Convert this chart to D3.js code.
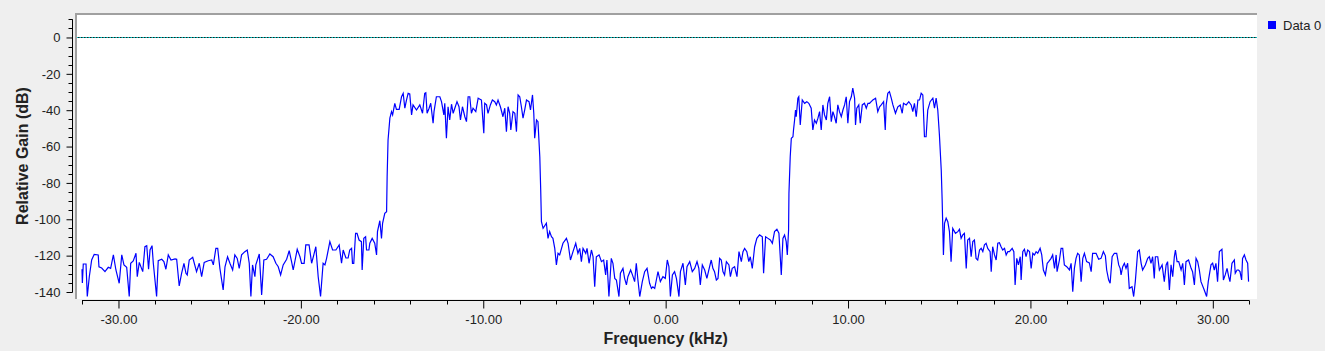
<!DOCTYPE html>
<html>
<head>
<meta charset="utf-8">
<script src="https://cdn.jsdelivr.net/npm/d3@7"></script>
<style>
  html, body { margin: 0; padding: 0; background: #efefef; }
  svg { display: block; font-family: "Liberation Sans", Arial, sans-serif; }
</style>
</head>
<body>
<svg id="chart"></svg>
<script>
// --- Data: [frequency kHz, gain dB] ---
const noiseLeft = [[-32.0,-127.5],[-31.98,-135],[-31.93,-124.6],[-31.78,-124.6],[-31.71,-142.5],[-31.6,-131.6],[-31.47,-122.4],[-31.33,-119.3],[-31.11,-119.6],[-31.07,-126.2],[-30.92,-126.8],[-30.74,-128.8],[-30.56,-126.4],[-30.43,-127],[-30.28,-119.6],[-30.14,-127.9],[-29.96,-135.2],[-29.82,-119.6],[-29.7,-125.1],[-29.55,-126.4],[-29.41,-142.5],[-29.33,-124.2],[-29.19,-122.9],[-29.04,-118.7],[-28.97,-131.6],[-28.86,-123.7],[-28.67,-128.8],[-28.55,-115.1],[-28.45,-114.5],[-28.35,-127.5],[-28.27,-116.9],[-28.16,-114.5],[-28.09,-124.2],[-27.91,-142.5],[-27.82,-122.8],[-27.63,-122],[-27.51,-123.3],[-27.4,-127.5],[-27.27,-119.6],[-27.12,-122.4],[-26.9,-121.8],[-26.81,-122],[-26.67,-136.7],[-26.54,-129.7],[-26.41,-124.2],[-26.3,-129.7],[-26.23,-130.6],[-26.12,-122.4],[-25.93,-120.9],[-25.72,-128.8],[-25.57,-124.2],[-25.44,-131.6],[-25.3,-123.7],[-25.08,-122.8],[-24.89,-122.4],[-24.8,-125.1],[-24.66,-116],[-24.56,-116],[-24.44,-127],[-24.26,-138.9],[-24.16,-126.1],[-24.02,-120.6],[-23.89,-124.2],[-23.74,-127.9],[-23.62,-119.6],[-23.49,-121.5],[-23.38,-127],[-23.25,-119.6],[-23.07,-117.8],[-22.94,-116.9],[-22.83,-124.2],[-22.74,-142.5],[-22.65,-125.1],[-22.52,-131.6],[-22.47,-125.1],[-22.28,-119.1],[-22.15,-141.6],[-22.03,-122.4],[-21.88,-122],[-21.7,-119.1],[-21.52,-120.6],[-21.37,-124.2],[-21.24,-126.1],[-21.11,-130.6],[-20.97,-125.1],[-20.78,-122],[-20.64,-117.3],[-20.51,-123.3],[-20.42,-127.9],[-20.2,-116.5],[-20.05,-120.6],[-19.96,-124.2],[-19.82,-124.2],[-19.73,-114.1],[-19.55,-114.1],[-19.41,-124.2],[-19.29,-119.6],[-19.18,-115.1],[-19.05,-131.6],[-18.92,-142.5],[-18.78,-124.2],[-18.68,-125.1],[-18.59,-121.5],[-18.41,-112.3],[-18.26,-116.9],[-18.08,-116.9],[-17.9,-114.1],[-17.77,-124.2],[-17.68,-116.9],[-17.53,-121.3],[-17.41,-121.3],[-17.32,-116.9],[-17.22,-116],[-17.17,-124.2],[-17.1,-124.2],[-17.0,-107.7],[-16.92,-107.7],[-16.81,-111.4],[-16.68,-112.3],[-16.64,-127.9],[-16.55,-110.5],[-16.45,-109.6],[-16.4,-116.9],[-16.27,-116.9],[-16.22,-113.2],[-16.09,-110.5],[-15.95,-113.2],[-15.85,-119.6],[-15.8,-106.8],[-15.67,-100.8],[-15.58,-110.5],[-15.52,-102.2],[-15.4,-96.7],[-15.3,-95.8]];

const bandLeft = [[-15.27,-76.6],[-15.22,-56.4],[-15.12,-44.4],[-15.03,-40.8],[-14.97,-42.6],[-14.85,-36.2],[-14.76,-39.5],[-14.61,-39.5],[-14.48,-32.6],[-14.39,-30.7],[-14.3,-38.9],[-14.21,-34.4],[-14.12,-30.7],[-14.03,-31.1],[-13.93,-42.6],[-13.85,-37.1],[-13.66,-39.9],[-13.48,-37.1],[-13.33,-41.7],[-13.21,-30.7],[-13.15,-30.4],[-13.08,-41.7],[-12.97,-38.9],[-12.88,-36.2],[-12.75,-47.2],[-12.7,-40.8],[-12.57,-32.6],[-12.38,-32.6],[-12.29,-35.3],[-12.16,-42.6],[-12.11,-36.2],[-12.02,-55.4],[-11.93,-38.1],[-11.84,-45.4],[-11.74,-36.7],[-11.65,-41.7],[-11.56,-38.9],[-11.44,-35.3],[-11.33,-38.1],[-11.25,-45.4],[-11.14,-38.1],[-11.01,-43.6],[-10.92,-46.3],[-10.83,-32.6],[-10.74,-32.6],[-10.65,-41.7],[-10.56,-38.9],[-10.41,-40.8],[-10.28,-33.4],[-10.1,-34.4],[-9.97,-52.7],[-9.92,-36.2],[-9.82,-37.1],[-9.74,-41.7],[-9.61,-37.1],[-9.5,-34.4],[-9.37,-35.3],[-9.28,-37.1],[-9.19,-34.4],[-9.06,-38.1],[-8.92,-43.6],[-8.82,-38.9],[-8.73,-51.8],[-8.64,-38.1],[-8.55,-41.7],[-8.49,-50.9],[-8.37,-40.8],[-8.27,-41.7],[-8.18,-51.8],[-8.09,-31.6],[-8.0,-32.6],[-7.91,-38.1],[-7.82,-44.4],[-7.73,-39.9],[-7.63,-34.4],[-7.49,-35.3],[-7.41,-39.9],[-7.3,-31.6],[-7.23,-41.7],[-7.18,-55.4],[-7.08,-45.4],[-7.0,-46.3],[-6.9,-65.6],[-6.85,-83.9]];

const noiseMid = [[-6.81,-101.3],[-6.72,-105],[-6.54,-102.2],[-6.45,-110.5],[-6.36,-106.8],[-6.26,-109.6],[-6.18,-110.5],[-6.08,-116],[-5.99,-125.1],[-5.9,-118.7],[-5.81,-119.6],[-5.63,-113.2],[-5.44,-110.5],[-5.35,-113.2],[-5.22,-122.4],[-5.08,-117.8],[-4.93,-113.2],[-4.81,-118.7],[-4.71,-116],[-4.62,-123.3],[-4.53,-116],[-4.38,-118.7],[-4.31,-116],[-4.2,-124.2],[-4.07,-116.9],[-3.98,-120.6],[-3.89,-137.1],[-3.8,-120.6],[-3.65,-119.6],[-3.52,-123.3],[-3.4,-122.4],[-3.29,-130.6],[-3.22,-122.4],[-3.11,-142.5],[-2.98,-121.5],[-2.89,-124.2],[-2.79,-132.5],[-2.7,-133.4],[-2.56,-142.5],[-2.48,-129.7],[-2.34,-127],[-2.25,-132.5],[-2.15,-136.1],[-2.07,-131.6],[-1.92,-127.9],[-1.82,-130.6],[-1.7,-134.3],[-1.61,-124.2],[-1.52,-133.4],[-1.42,-142.5],[-1.28,-134.3],[-1.15,-128.8],[-1.02,-127],[-0.88,-135.2],[-0.78,-138],[-0.7,-137.1],[-0.6,-138],[-0.51,-133.4],[-0.42,-128.8],[-0.29,-134.3],[-0.15,-131.6],[-0.02,-132.5],[0.09,-122.4],[0.18,-126.1],[0.26,-142.5],[0.37,-130.6],[0.49,-128.8],[0.59,-132.5],[0.73,-142.5],[0.81,-128.8],[0.95,-124.2],[1.08,-136.1],[1.17,-126.1],[1.32,-123.3],[1.46,-128.8],[1.59,-127],[1.72,-123.3],[1.82,-127],[1.9,-136.1],[2.01,-125.1],[2.14,-127.9],[2.26,-132.5],[2.41,-126.1],[2.5,-122.4],[2.59,-127],[2.68,-128.8],[2.78,-133.4],[2.87,-132.5],[2.96,-121.5],[3.05,-122.4],[3.14,-128.8],[3.23,-130.6],[3.33,-123.3],[3.47,-125.1],[3.55,-131.6],[3.65,-127],[3.78,-126.1],[3.91,-131.6],[4.02,-117.8],[4.15,-123.3],[4.24,-117.8],[4.33,-116],[4.45,-117.8],[4.56,-123.3],[4.64,-120.6],[4.75,-127],[4.88,-115.1],[5.0,-110.5],[5.15,-108.6],[5.3,-109.6],[5.37,-129.7],[5.48,-109.6],[5.61,-110.5],[5.74,-111.4],[5.85,-113.2],[5.97,-106.8],[6.1,-105.5],[6.21,-107.7],[6.34,-130.6],[6.43,-110.5],[6.52,-108.6],[6.61,-112.3],[6.67,-119.6],[6.74,-105.9]];

const bandRight = [[6.76,-85.7],[6.83,-65.6],[6.89,-55.4],[6.98,-54.6],[7.01,-50.9],[7.07,-45.4],[7.12,-39.9],[7.16,-43.6],[7.25,-33.4],[7.3,-32.6],[7.38,-48.1],[7.49,-34.4],[7.62,-36.2],[7.74,-35.3],[7.85,-36.2],[7.98,-38.9],[8.07,-50.9],[8.16,-45.4],[8.26,-47.2],[8.35,-44.4],[8.44,-40.8],[8.53,-50.9],[8.62,-37.1],[8.71,-42.6],[8.81,-45.4],[8.89,-36.2],[8.99,-32.6],[9.08,-46.3],[9.17,-40.8],[9.26,-43.6],[9.35,-47.2],[9.44,-37.1],[9.53,-40.8],[9.63,-43.6],[9.72,-39.9],[9.81,-37.1],[9.9,-32.6],[9.99,-47.2],[10.08,-35.3],[10.18,-32.6],[10.26,-27.9],[10.36,-33.4],[10.41,-48.1],[10.48,-38.9],[10.59,-37.1],[10.67,-47.2],[10.78,-37.1],[10.9,-36.2],[11.0,-38.9],[11.09,-36.2],[11.18,-36.2],[11.27,-35.3],[11.36,-34.4],[11.51,-33.4],[11.63,-40.8],[11.73,-38.1],[11.82,-37.1],[11.95,-35.3],[12.04,-50.9],[12.09,-37.1],[12.18,-30.7],[12.27,-29.8],[12.37,-33.4],[12.46,-37.1],[12.6,-41.7],[12.73,-38.1],[12.86,-37.1],[12.97,-41.7],[13.04,-36.2],[13.19,-37.1],[13.33,-35.3],[13.46,-37.1],[13.55,-40.8],[13.64,-36.2],[13.74,-43.6],[13.83,-34.4],[13.92,-34.4],[14.01,-30.7],[14.1,-31.6],[14.19,-54.6],[14.28,-54.6],[14.37,-39.9],[14.5,-35.3],[14.65,-33.4],[14.74,-38.9],[14.83,-33.4],[14.92,-39.9],[15.01,-53.6],[15.11,-72.9],[15.16,-89.4]];

const noiseRight = [[15.23,-119.6],[15.29,-102.2],[15.38,-99.4],[15.47,-101.3],[15.56,-106.8],[15.65,-123.3],[15.74,-105],[15.89,-107.7],[16.02,-106.8],[16.11,-105.5],[16.2,-110.5],[16.29,-108.6],[16.38,-107.7],[16.48,-127],[16.56,-111.4],[16.66,-110.5],[16.75,-120.6],[16.84,-112.3],[16.93,-111.4],[17.02,-121.5],[17.11,-122.4],[17.21,-116.9],[17.3,-116],[17.39,-117.8],[17.48,-114.1],[17.57,-113.2],[17.66,-116],[17.79,-117.8],[17.85,-128.8],[17.93,-115.1],[18.03,-119.6],[18.12,-122.4],[18.21,-113.2],[18.3,-112.9],[18.39,-115.1],[18.48,-116.9],[18.58,-116],[18.67,-119.6],[18.76,-117.8],[18.85,-117.8],[19.0,-116],[19.09,-117.8],[19.16,-136.1],[19.25,-121.5],[19.34,-125.1],[19.44,-120.6],[19.49,-133.4],[19.58,-117.8],[19.67,-116.5],[19.76,-120.6],[19.85,-116.9],[19.95,-117.8],[20.04,-127],[20.13,-118.7],[20.22,-119.6],[20.31,-117.8],[20.4,-118.7],[20.53,-116],[20.62,-119.6],[20.71,-127.9],[20.82,-130.6],[20.92,-124.2],[21.0,-123.3],[21.13,-121.5],[21.22,-119.6],[21.32,-127],[21.41,-119.6],[21.46,-128.8],[21.59,-122.4],[21.68,-116],[21.77,-116],[21.86,-125.1],[21.99,-126.1],[22.14,-127.9],[22.23,-124.2],[22.32,-139.8],[22.41,-127],[22.5,-121.5],[22.59,-118.7],[22.68,-119.6],[22.78,-134.3],[22.87,-121.5],[22.96,-118.7],[23.08,-123.3],[23.23,-124],[23.33,-128.8],[23.41,-118.7],[23.6,-118.7],[23.74,-122],[23.87,-121.5],[24.0,-117.8],[24.11,-120.1],[24.18,-127.9],[24.29,-133.4],[24.37,-135.2],[24.48,-120.6],[24.6,-118.7],[24.73,-118.7],[24.84,-125.1],[24.92,-127],[24.97,-130.6],[25.06,-126.1],[25.15,-124.2],[25.24,-127],[25.33,-124.2],[25.42,-138],[25.57,-137.1],[25.66,-142.5],[25.75,-134.3],[25.88,-117.8],[25.97,-116.9],[26.07,-124.2],[26.15,-127.9],[26.3,-125.1],[26.43,-121.5],[26.52,-120.6],[26.61,-124.2],[26.7,-120.6],[26.79,-132.5],[26.85,-120.6],[26.98,-120.6],[27.07,-127.9],[27.22,-125.1],[27.34,-134.3],[27.44,-125.1],[27.52,-123.3],[27.62,-138.9],[27.71,-125.1],[27.8,-131.6],[27.89,-120.6],[27.95,-116.9],[28.04,-123.3],[28.13,-123.3],[28.26,-127.9],[28.35,-124.2],[28.44,-136.1],[28.53,-123.3],[28.67,-122.4],[28.81,-127],[28.89,-128.8],[28.99,-136.1],[29.08,-121.5],[29.17,-123.3],[29.26,-127.9],[29.35,-134.3],[29.53,-138.9],[29.66,-142.5],[29.75,-134.3],[29.9,-125.1],[29.99,-124.2],[30.08,-127.9],[30.17,-124.2],[30.26,-134.3],[30.36,-117.8],[30.5,-116.5],[30.58,-133.4],[30.68,-130.6],[30.78,-127],[30.87,-131.6],[30.94,-134.3],[31.05,-124.2],[31.18,-122.4],[31.23,-129.7],[31.33,-127.9],[31.41,-127.9],[31.49,-128.8],[31.58,-133.4],[31.63,-121.5],[31.73,-119.6],[31.82,-122.4],[31.91,-124.2],[31.96,-134.3]];

const xTickValues = [-30, -20, -10, 0, 10, 20, 30];
const yTickValues = [0, -20, -40, -60, -80, -100, -120, -140];
const seriesName = "Data 0";
const xTitle = "Frequency (kHz)";
const yTitle = "Relative Gain (dB)";

// --- Layout ---
const width = 1325, height = 351;
const canvas = { x: 75, y: 13, w: 1182, h: 286 };

// plain hyphen for negative numbers, like the reference
const locale = d3.formatLocale({ decimal: ".", thousands: ",", grouping: [3], currency: ["", ""], minus: "-" });

const svg = d3.select("#chart")
    .attr("width", width)
    .attr("height", height);

svg.append("rect")
    .attr("width", width).attr("height", height)
    .attr("fill", "#efefef");

// scales
const x = d3.scaleLinear().domain([-32, 32]).range([82, 1249.3]);
const y = d3.scaleLinear().domain([-140, 10]).range([292, 19.3]);

// plot canvas with sunken frame
svg.append("rect")
    .attr("x", canvas.x).attr("y", canvas.y)
    .attr("width", canvas.w).attr("height", canvas.h)
    .attr("fill", "#ffffff");
svg.append("path")
    .attr("d", `M${canvas.x + 1},${canvas.y + canvas.h}V${canvas.y + 1}H${canvas.x + canvas.w}`)
    .attr("fill", "none")
    .attr("stroke", "#a0a0a0")
    .attr("stroke-width", 2);

svg.append("clipPath").attr("id", "clip")
  .append("rect")
    .attr("x", canvas.x + 2).attr("y", canvas.y + 2)
    .attr("width", canvas.w - 2).attr("height", canvas.h - 2);

const plot = svg.append("g").attr("clip-path", "url(#clip)");

// 0 dB marker line
plot.append("line")
    .attr("x1", canvas.x).attr("x2", canvas.x + canvas.w)
    .attr("y1", Math.round(y(0)) + 0.5).attr("y2", Math.round(y(0)) + 0.5)
    .attr("stroke", "#00c8c8").attr("stroke-width", 1);
plot.append("line")
    .attr("x1", canvas.x).attr("x2", canvas.x + canvas.w)
    .attr("y1", Math.round(y(0)) + 0.5).attr("y2", Math.round(y(0)) + 0.5)
    .attr("stroke", "#202020").attr("stroke-width", 1)
    .attr("stroke-dasharray", "1.5,1.5");

// trace
const trace = [].concat(noiseLeft, bandLeft, noiseMid, bandRight, noiseRight);
const line = d3.line()
    .x(d => x(d[0]))
    .y(d => y(d[1]));

plot.append("path")
    .datum(trace)
    .attr("d", line)
    .attr("fill", "none")
    .attr("stroke", "#0000ff")
    .attr("stroke-width", 1.2)
    .attr("stroke-linejoin", "miter");

// --- Axes ---
const axisFont = 13;

// y axis
const yMinor = d3.range(10, -141, -5).filter(v => v % 20 !== 0);
const yAxisG = svg.append("g").attr("transform", "translate(72.5,0)");
yAxisG.call(d3.axisLeft(y).tickValues(yTickValues).tickSize(6).tickFormat(locale.format("d")))
    .call(g => g.select(".domain").remove())
    .call(g => g.selectAll(".tick text")
        .attr("x", -12)
        .attr("font-size", axisFont)
        .attr("font-family", "Liberation Sans, Arial, sans-serif")
        .attr("fill", "#222"));
yAxisG.selectAll(".minor")
    .data(yMinor)
    .join("line")
    .attr("class", "minor")
    .attr("x1", -4).attr("x2", 0)
    .attr("y1", d => Math.round(y(d)) + 0.5).attr("y2", d => Math.round(y(d)) + 0.5)
    .attr("stroke", "#000");
yAxisG.append("line")
    .attr("x1", 0).attr("x2", 0)
    .attr("y1", y(10)).attr("y2", y(-140) + 0.5)
    .attr("stroke", "#000");

// x axis
const xMinor = d3.range(-32, 33, 2).filter(v => v % 10 !== 0);
const xAxisG = svg.append("g").attr("transform", "translate(0,300.5)");
xAxisG.call(d3.axisBottom(x).tickValues(xTickValues).tickSize(8).tickFormat(locale.format(".2f")))
    .call(g => g.select(".domain").remove())
    .call(g => g.selectAll(".tick text")
        .attr("y", 14)
        .attr("font-size", axisFont)
        .attr("font-family", "Liberation Sans, Arial, sans-serif")
        .attr("fill", "#222"));
xAxisG.selectAll(".minor")
    .data(xMinor)
    .join("line")
    .attr("class", "minor")
    .attr("x1", d => Math.round(x(d)) + 0.5).attr("x2", d => Math.round(x(d)) + 0.5)
    .attr("y1", 0).attr("y2", 4)
    .attr("stroke", "#000");
xAxisG.append("line")
    .attr("x1", x(-32)).attr("x2", x(32))
    .attr("y1", 0).attr("y2", 0)
    .attr("stroke", "#000");

// axis titles
svg.append("text")
    .attr("x", x(0)).attr("y", 344)
    .attr("text-anchor", "middle")
    .attr("font-size", 16).attr("font-weight", "bold")
    .attr("fill", "#222")
    .text(xTitle);

svg.append("text")
    .attr("transform", `translate(28,${canvas.y + canvas.h / 2}) rotate(-90)`)
    .attr("text-anchor", "middle")
    .attr("font-size", 16).attr("font-weight", "bold")
    .attr("fill", "#222")
    .text(yTitle);

// legend
const legend = svg.append("g").attr("transform", "translate(1268,21)");
legend.append("rect")
    .attr("width", 8).attr("height", 8)
    .attr("fill", "#0000ff");
legend.append("text")
    .attr("x", 15).attr("y", 8.5)
    .attr("font-size", 13)
    .attr("fill", "#222")
    .text(seriesName);
</script>
</body>
</html>
